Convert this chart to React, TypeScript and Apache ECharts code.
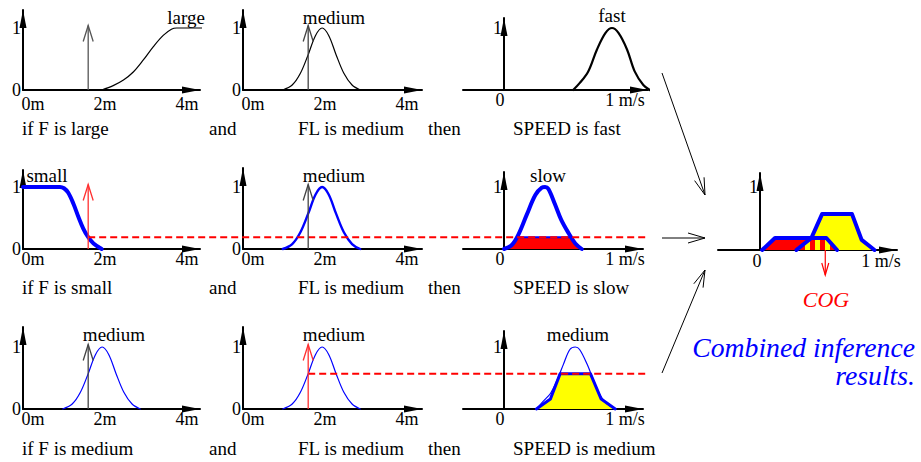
import React, { useEffect, useRef } from 'react';
import * as echarts from 'echarts';

// ---------------- data ----------------
const inputF = 1.59; // measured distance F (m)
const inputFL = 1.59; // measured distance FL (m)
const levelSlow = 0.19; // firing level of rule 2
const levelMedium = 0.57; // firing level of rule 3
const cogSpeed = 0.61; // centre of gravity (m/s)

// distance sets (m)
const largeX = [1.92, 2.2, 2.45, 2.69, 2.93, 3.18, 3.42, 3.62, 3.75, 4.4];
const largeY = [0, 0.07, 0.16, 0.29, 0.48, 0.7, 0.88, 0.98, 1, 1];
const smallX = [0, 0.9, 1.0, 1.1, 1.23, 1.35, 1.47, 1.59, 1.72, 1.92];
const smallY = [1, 1, 0.98, 0.91, 0.73, 0.52, 0.33, 0.19, 0.09, 0];
const mediumDistX = [0.97, 1.2, 1.4, 1.59, 1.77, 1.93, 2.09, 2.27, 2.46, 2.66, 2.86];
const mediumDistY = [0, 0.08, 0.27, 0.57, 0.88, 1, 0.88, 0.57, 0.27, 0.08, 0];

// speed sets (m/s)
const fastX = [0.64, 0.7, 0.78, 0.86, 0.94, 1.0, 1.06, 1.14, 1.21, 1.29, 1.35];
const fastY = [0, 0.11, 0.3, 0.65, 0.92, 1, 0.92, 0.65, 0.3, 0.08, 0];
const slowX = [0, 0.07, 0.13, 0.21, 0.29, 0.35, 0.38, 0.41, 0.47, 0.53, 0.6, 0.66, 0.72];
const slowY = [0, 0.06, 0.22, 0.55, 0.87, 0.99, 1, 0.97, 0.73, 0.47, 0.25, 0.09, 0];
const mediumSpeedX = [0.3, 0.36, 0.43, 0.49, 0.55, 0.61, 0.66, 0.7, 0.77, 0.83, 0.89, 0.95, 1.03];
const mediumSpeedY = [0, 0.12, 0.25, 0.46, 0.72, 0.96, 1, 0.96, 0.72, 0.46, 0.22, 0.09, 0];

// clipped conclusions
const slowClipX = [0, 0.07, 0.12, 0.62, 0.66, 0.72];
const slowClipY = [0, 0.06, 0.19, 0.19, 0.09, 0];
const mediumClipX = [0.3, 0.43, 0.52, 0.8, 0.9, 1.03];
const mediumClipY = [0, 0.16, 0.57, 0.57, 0.16, 0];

// combined result
const combSlowX = [0.02, 0.14, 0.62, 0.72];
const combSlowY = [0, 0.19, 0.19, 0];
const combMedX = [0.34, 0.48, 0.58, 0.86, 0.95, 1.07];
const combMedY = [0, 0.19, 0.57, 0.57, 0.16, 0];
const overlapX = [0.34, 0.48, 0.62, 0.72];
const overlapY = [0, 0.19, 0.19, 0];

// ticks
const distTicks = [0, 2, 4];
const distTickLabels = ['0m', '2m', '4m'];
const speedTicks = [0, 1];
const speedTickLabels = ['0', '1 m/s'];
const distYTicks = [0, 1];
const speedYTicks = [1];

// texts
const ruleTexts = [
  ['if F is large', 'and', 'FL is medium', 'then', 'SPEED is fast'],
  ['if F is small', 'and', 'FL is medium', 'then', 'SPEED is slow'],
  ['if F is medium', 'and', 'FL is medium', 'then', 'SPEED is medium'],
];
const setNames = [
  ['large', 'medium', 'fast'],
  ['small', 'medium', 'slow'],
  ['medium', 'medium', 'medium'],
];
const resultText = ['Combined inference', 'results.'];
const cogText = 'COG';

// ---------------- layout / style ----------------
const FONT = 'Liberation Serif';
const BLUE = '#0000ff';
const RED = '#ff0000';
const YELLOW = '#ffff00';
const TEXT_SIZE = 19;

const DIST_PPU = 41;
const SPEED_PPU = 108;
const Y_PPU = 62;
const distCols = [
  { left: 23, x0: 23, right: 200 },
  { left: 243, x0: 243, right: 422 },
];
const speedCol = { left: 463, x0: 504, rights: [648, 643, 643] };
const rowGeo = [
  { bottom: 90, tops: [10, 10, 18] },
  { bottom: 249, tops: [170, 168, 172] },
  { bottom: 409, tops: [327, 327, 331] },
];
const ruleTextX = [22, 209, 298, 428, 513];
const ruleTextY = [128, 287, 448];
const nameLabelPos = [
  [[186, 17], [334, 17], [612, 15]],
  [[47, 175], [334, 175], [548, 175]],
  [[114, 334], [334, 334], [578, 334]],
];
const distShifts = [10, 0, 0];
const speedShifts = [-4, 13];
const combShifts = [-3, 14];

type Panel = {
  kind: 'dist' | 'speed';
  left: number; top: number; width: number; height: number; yOffset: number;
  xMin: number; xMax: number; yMax: number; xMargin: number; shifts: number[];
};

function mkPanel(kind: 'dist' | 'speed', left: number, x0: number, right: number, ppu: number,
  top: number, bottom: number, ppuY: number, xMargin: number, shifts: number[]): Panel {
  return {
    kind, left, top, width: right - left, height: bottom - top, yOffset: left - x0,
    xMin: (left - x0) / ppu, xMax: (right - x0) / ppu, yMax: (bottom - top) / ppuY, xMargin, shifts,
  };
}

const panels: Panel[] = [];
rowGeo.forEach((rg, r) => {
  distCols.forEach((dc, c) => {
    panels.push(mkPanel('dist', dc.left, dc.x0, dc.right, DIST_PPU, rg.tops[c], rg.bottom, Y_PPU, r === 0 ? 5 : 1, distShifts));
  });
  panels.push(mkPanel('speed', speedCol.left, speedCol.x0, speedCol.rights[r], SPEED_PPU, rg.tops[2], rg.bottom, Y_PPU, 1, speedShifts));
});
panels.push(mkPanel('speed', 718, 760, 897, 107, 173, 250, 63, 2, combShifts));
const COMB = 9;

const axisLineBase = {
  show: true,
  onZero: false,
  lineStyle: { color: '#000', width: 2 },
  symbol: ['none', 'triangle'],
  symbolSize: [7, 18],
  symbolOffset: [0, -9],
};

function pairs(xs: number[], ys: number[]) {
  return xs.map((x, i) => [x, ys[i]]);
}

function curve(g: number, xs: number[], ys: number[], color: string, width: number, extra: any = {}) {
  return {
    type: 'line', xAxisIndex: g, yAxisIndex: g, data: pairs(xs, ys), symbol: 'none',
    smooth: 0.35, clip: false, silent: true, lineStyle: { color, width, cap: 'round', join: 'round' }, ...extra,
  };
}
function fill(g: number, xs: number[], ys: number[], color: any) {
  return {
    type: 'line', xAxisIndex: g, yAxisIndex: g, data: pairs(xs, ys), symbol: 'none', clip: false, silent: true,
    lineStyle: { opacity: 0, width: 0 }, areaStyle: { color, opacity: 1 },
  };
}
function outline(g: number, xs: number[], ys: number[], color: string, width: number) {
  return {
    type: 'line', xAxisIndex: g, yAxisIndex: g, data: pairs(xs, ys), symbol: 'none', clip: false, silent: true,
    lineStyle: { color, width, join: 'round', cap: 'round' },
  };
}

function xAxisFor(i: number, p: Panel) {
  const ticks = p.kind === 'dist' ? distTicks : speedTicks;
  const labels = p.kind === 'dist' ? distTickLabels : speedTickLabels;
  const rich: any = {};
  labels.forEach((_, k) => {
    const s = p.shifts[k] || 0;
    rich['t' + k] = {
      fontSize: 18, fontFamily: FONT, color: '#000',
      padding: [0, s < 0 ? -2 * s : 0, 0, s > 0 ? 2 * s : 0],
    };
  });
  return {
    type: 'value', gridIndex: i, min: p.xMin, max: p.xMax,
    axisLine: axisLineBase, axisTick: { show: false }, splitLine: { show: false },
    axisLabel: {
      customValues: ticks, margin: p.xMargin, fontSize: 18, fontFamily: FONT, color: '#000', rich,
      formatter: (v: number) => {
        const k = ticks.findIndex((t) => Math.abs(t - v) < 1e-6);
        return k < 0 ? '' : `{t${k}|${labels[k]}}`;
      },
    },
  };
}
function yAxisFor(i: number, p: Panel) {
  const ticks = p.kind === 'dist' ? distYTicks : speedYTicks;
  return {
    type: 'value', gridIndex: i, min: 0, max: p.yMax, position: 'left', offset: p.yOffset,
    axisLine: axisLineBase, axisTick: { show: false }, splitLine: { show: false },
    axisLabel: {
      customValues: ticks, margin: 2, fontSize: 18, fontFamily: FONT, color: '#000',
      formatter: (v: number) => (ticks.some((t) => Math.abs(t - v) < 1e-6) ? String(Math.round(v)) : ''),
    },
  };
}

function arrowHead(tip: number[], dir: number[], len: number, half: number, color: string, width: number) {
  const l = Math.hypot(dir[0], dir[1]);
  const dx = dir[0] / l, dy = dir[1] / l;
  const bx = tip[0] - dx * len, by = tip[1] - dy * len;
  const px = -dy, py = dx;
  return {
    type: 'polyline', z: 100, silent: true,
    shape: { points: [[bx + px * half, by + py * half], [tip[0], tip[1]], [bx - px * half, by - py * half]] },
    style: { stroke: color, lineWidth: width, fill: 'none' },
  };
}
function arrow(from: number[], to: number[], color: string, width: number, len: number, half: number) {
  return [
    { type: 'line', z: 100, silent: true, shape: { x1: from[0], y1: from[1], x2: to[0], y2: to[1] }, style: { stroke: color, lineWidth: width } },
    arrowHead(to, [to[0] - from[0], to[1] - from[1]], len, half, color, width),
  ];
}
function text(x: number, y: number, t: string, opts: { fill?: string; size?: number; italic?: boolean; align?: string } = {}) {
  const size = opts.size ?? TEXT_SIZE;
  return {
    type: 'text', z: 100, silent: true, x, y,
    style: {
      text: t, fill: opts.fill ?? '#000',
      font: `${opts.italic ? 'italic ' : ''}${size}px ${FONT}`,
      textAlign: opts.align ?? 'left', textVerticalAlign: 'middle',
    },
  };
}

export default function App() {
  const ref = useRef<HTMLDivElement>(null);
  useEffect(() => {
    document.body.style.margin = '0';
    const chart = echarts.init(ref.current!, null, { renderer: 'svg' });

    const cv = document.createElement('canvas');
    cv.width = 10; cv.height = 10;
    const ctx = cv.getContext('2d')!;
    ctx.fillStyle = YELLOW; ctx.fillRect(0, 0, 10, 10);
    ctx.fillStyle = RED; ctx.fillRect(0, 0, 5, 10);
    const stripes = { image: cv, repeat: 'repeat' };

    const series: any[] = [
      curve(0, largeX, largeY, '#000', 1.2),
      curve(1, mediumDistX, mediumDistY, '#000', 1.2),
      curve(2, fastX, fastY, '#000', 2.2),
      curve(3, smallX, smallY, BLUE, 4),
      curve(4, mediumDistX, mediumDistY, BLUE, 2.4),
      fill(5, slowClipX, slowClipY, RED),
      outline(5, slowClipX, slowClipY, BLUE, 2),
      curve(5, slowX, slowY, BLUE, 4),
      curve(6, mediumDistX, mediumDistY, BLUE, 1.2),
      curve(7, mediumDistX, mediumDistY, BLUE, 1.2),
      fill(8, mediumClipX, mediumClipY, YELLOW),
      outline(8, mediumClipX, mediumClipY, BLUE, 3),
      curve(8, mediumSpeedX, mediumSpeedY, BLUE, 1.2),
      fill(COMB, combSlowX, combSlowY, RED),
      fill(COMB, combMedX, combMedY, YELLOW),
      fill(COMB, overlapX, overlapY, stripes),
      outline(COMB, combSlowX, combSlowY, BLUE, 4),
      outline(COMB, combMedX, combMedY, BLUE, 4),
    ];

    chart.setOption({
      animation: false,
      textStyle: { fontFamily: FONT },
      grid: panels.map((p) => ({ left: p.left, top: p.top, width: p.width, height: p.height, containLabel: false })),
      xAxis: panels.map((p, i) => xAxisFor(i, p)),
      yAxis: panels.map((p, i) => yAxisFor(i, p)),
      series,
    });

    const px = (g: number, x: number, y: number) => chart.convertToPixel({ gridIndex: g } as any, [x, y]) as number[];

    const graphics: any[] = [];
    // input arrows
    const inputs: [number, number, string][] = [
      [0, inputF, '#555'], [1, inputFL, '#444'],
      [3, inputF, '#ff3030'], [4, inputFL, '#444'],
      [6, inputF, '#444'], [7, inputFL, '#ff3030'],
    ];
    inputs.forEach(([g, x, c]) => {
      graphics.push(...arrow(px(g, x, 0), px(g, x, 1.04), c, 1.3, 16, 5));
    });
    // firing level dashed lines
    const d2a = px(3, inputF, levelSlow), d2b = px(5, 1.32, levelSlow);
    graphics.push({ type: 'line', z: 99, silent: true, shape: { x1: d2a[0], y1: d2a[1], x2: d2b[0], y2: d2a[1] }, style: { stroke: RED, lineWidth: 2, lineDash: [7, 4] } });
    const d3a = px(7, inputFL, levelMedium), d3b = px(8, 1.31, levelMedium);
    graphics.push({ type: 'line', z: 99, silent: true, shape: { x1: d3a[0], y1: d3a[1], x2: d3b[0], y2: d3a[1] }, style: { stroke: RED, lineWidth: 2, lineDash: [7, 4] } });
    // COG arrow
    const cg = px(COMB, cogSpeed, 0);
    graphics.push(...arrow([cg[0], cg[1]], [cg[0], cg[1] + 25], RED, 1.2, 12, 3.5));
    graphics.push(text(826, 299, cogText, { fill: RED, size: 22, italic: true, align: 'center' }));
    // big arrows into the combined panel
    graphics.push(...arrow([662, 73], [705, 195], '#000', 1, 17, 5));
    graphics.push(...arrow([662, 238], [705, 238], '#000', 1, 17, 5));
    graphics.push(...arrow([662, 373], [705, 270], '#000', 1, 17, 5));
    // rule texts
    ruleTexts.forEach((row, r) => row.forEach((t, c) => graphics.push(text(ruleTextX[c], ruleTextY[r], t))));
    // set names
    setNames.forEach((row, r) => row.forEach((t, c) => {
      const [x, y] = nameLabelPos[r][c];
      graphics.push(text(x, y, t, { align: 'center' }));
    }));
    // combined caption
    graphics.push(text(915, 347, resultText[0], { fill: BLUE, size: 27.7, italic: true, align: 'right' }));
    graphics.push(text(915, 375, resultText[1], { fill: BLUE, size: 27.7, italic: true, align: 'right' }));

    chart.setOption({ graphic: { elements: graphics } });

    return () => chart.dispose();
  }, []);
  return <div ref={ref} style={{ width: 921, height: 462 }} />;
}
